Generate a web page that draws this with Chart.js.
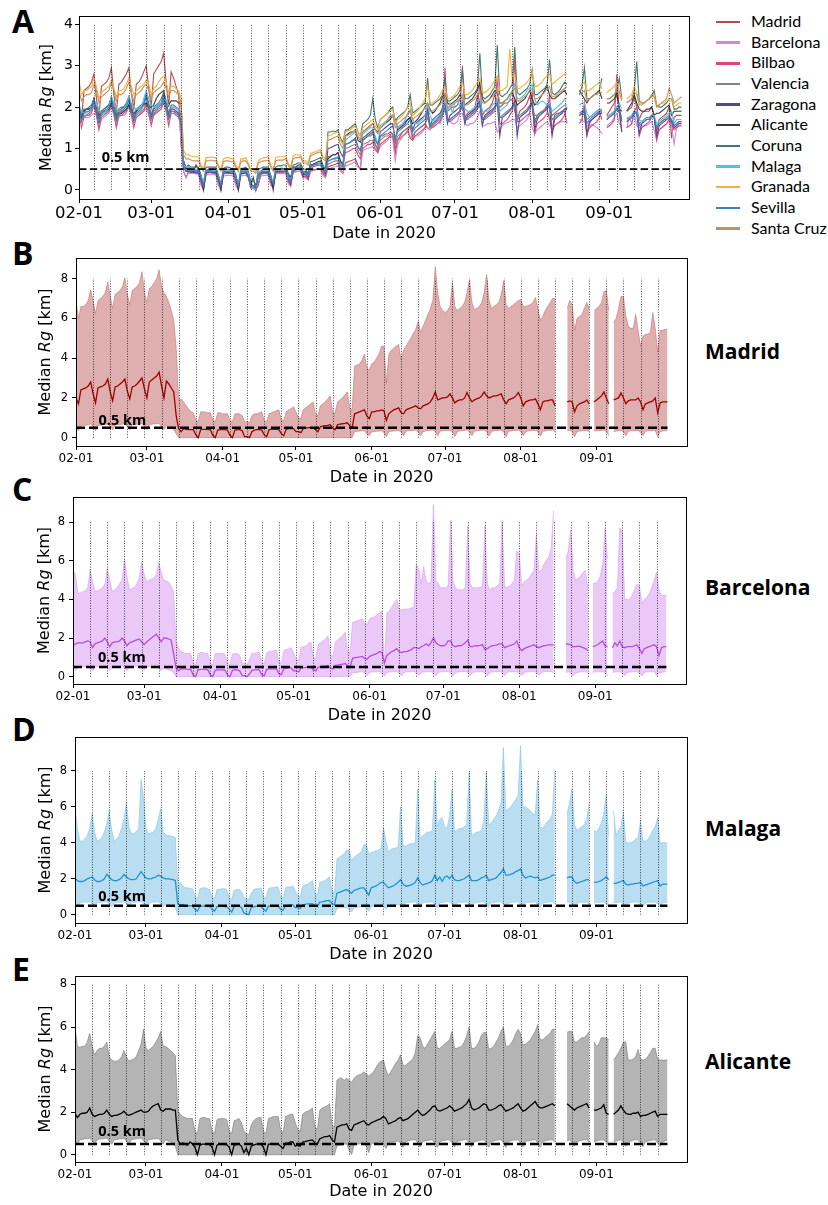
<!DOCTYPE html>
<html>
<head>
<meta charset="utf-8">
<script src="https://cdn.jsdelivr.net/npm/chart.js@4.4.1/dist/chart.umd.min.js"></script>
<style>
  body { margin: 0; width: 828px; height: 1205px; position: relative; overflow: hidden; background: #fff; }
  canvas { position: absolute; left: 0; }
  .letter { position: absolute; left: 12px; font: 700 32px/1 "Open Sans", sans-serif; color: #000; }
  .city { position: absolute; left: 705px; font: 700 21px/1 "Open Sans", sans-serif; color: #000; }
  #legend { position: absolute; left: 716px; top: 11px; font: 16px Lato, sans-serif; color: #000; }
  #legend div { height: 20.67px; line-height: 20.67px; white-space: nowrap; }
  #legend span { display: inline-block; width: 24px; height: 2.5px; vertical-align: middle; margin-right: 11px; position: relative; top: -1px; }
</style>
</head>
<body>
<div class="letter" style="top:4.9px">A</div>
<div class="letter" style="top:236.6px">B</div>
<div class="letter" style="top:473.3px">C</div>
<div class="letter" style="top:713.3px">D</div>
<div class="letter" style="top:953.3px">E</div>
<div class="city" style="top:341.4px">Madrid</div>
<div class="city" style="top:577.4px">Barcelona</div>
<div class="city" style="top:818px">Malaga</div>
<div class="city" style="top:1050.7px">Alicante</div>
<div id="legend"></div>
<script>
// days counted from 2020-02-01 (day 0) to 2020-09-30 (day 242)
const monthTicks = [0, 29, 60, 90, 121, 151, 182, 213];
const monthLabels = ['02-01', '03-01', '04-01', '05-01', '06-01', '07-01', '08-01', '09-01'];
const weeksA = [6,13,20,27,34,41,48,55,62,69,76,83,90,97,104,111,118,125,132,139,146,153,160,167,174,181,188,195,202,209,216,223,230,237];
const weeksB = [7,14,21,28,35,42,49,56,63,70,77,84,91,98,105,112,119,126,133,140,147,154,161,168,175,182,189,196,203,210,217,224,231,238];
const threshold = 0.5;

const cityNames = ['Madrid', 'Barcelona', 'Bilbao', 'Valencia', 'Zaragona', 'Alicante', 'Coruna', 'Malaga', 'Granada', 'Sevilla', 'Santa Cruz'];
const cityColors = ['#b84a50', '#c98bdb', '#e0467c', '#8e7f7c', '#54498a', '#3a3a3a', '#42796f', '#56bde8', '#f5b13a', '#3f7fc4', '#c4925f'];

// ---- Madrid
const madMed = [
2.0,1.7,2.4,2.45,2.5,2.6,2.8,
2.2,1.75,2.5,2.55,2.6,2.7,2.95,
2.3,1.85,2.55,2.6,2.7,2.8,2.95,
2.35,1.95,2.55,2.6,2.7,2.85,3.0,
2.45,2.0,2.8,2.9,3.0,3.1,3.3,
2.6,2.0,2.85,2.7,2.5,2.3,1.1,
0.45,0.3,0.45,0.42,0.4,0.4,0.4,
0.15,0.0,0.4,0.42,0.42,0.4,0.4,
0.12,0.0,0.38,0.4,0.4,0.4,0.38,
0.12,0.0,0.38,0.4,0.4,0.35,0.05,
0.05,0.0,0.3,0.38,0.4,0.4,0.38,
0.15,0.05,0.4,0.42,0.42,0.42,0.4,
0.2,0.1,0.42,0.45,0.45,0.45,0.3,
0.3,0.25,0.45,0.48,0.5,0.5,0.5,
0.4,0.3,0.55,0.58,0.6,0.62,0.65,
0.5,0.4,0.65,0.68,0.7,0.72,0.75,
0.6,0.5,1.2,1.25,1.3,1.35,1.4,
1.1,0.95,1.3,1.3,1.35,1.35,1.4,
1.35,0.87,1.2,1.3,1.4,1.45,1.5,
1.25,1.2,1.4,1.45,1.5,1.55,1.6,
1.5,1.45,1.6,1.65,1.7,1.8,2.0,
2.3,1.9,1.95,2.0,2.0,2.05,2.2,
2.0,1.75,1.85,1.9,1.9,2.0,2.27,
2.0,1.8,1.9,1.95,2.0,2.1,2.3,
2.1,2.0,2.05,2.1,2.1,2.15,2.2,
1.9,1.7,1.9,1.95,2.0,2.1,2.27,
2.0,1.6,1.8,1.85,1.9,1.9,1.95,
1.7,1.4,1.8,1.85,1.85,1.9,1.9,
1.6,null,null,null,null,1.8,1.85,
1.8,1.3,1.6,1.7,1.75,1.8,1.9,
1.7,null,1.8,1.9,2.0,2.1,2.3,
2.0,1.7,null,1.9,1.95,2.0,2.25,
2.0,1.7,1.85,1.9,1.9,1.9,2.0,
1.8,1.4,1.7,1.75,1.8,1.85,2.0,
1.25,1.75,1.8,1.8,1.8
];
const madUp = [
6.9,6.0,6.6,6.6,6.7,6.9,7.45,
6.9,6.25,6.9,7.0,7.1,7.3,7.85,
7.1,6.5,7.2,7.3,7.4,7.6,8.05,
7.2,6.7,7.4,7.5,7.6,7.8,8.35,
7.3,6.8,7.5,7.6,7.8,8.0,8.45,
7.6,7.3,7.1,6.8,6.4,5.9,4.5,
1.9,1.95,1.8,1.6,1.45,1.3,1.25,
0.9,0.8,1.3,1.3,1.28,1.25,1.25,
0.9,0.8,1.25,1.25,1.2,1.2,1.2,
0.85,0.8,1.2,1.2,1.2,1.1,0.8,
0.8,0.75,1.1,1.2,1.2,1.25,1.3,
0.85,0.8,1.2,1.25,1.3,1.35,1.4,
0.9,0.85,1.3,1.4,1.45,1.55,1.3,
1.0,0.95,1.4,1.5,1.6,1.7,1.8,
1.2,1.1,1.6,1.7,1.8,1.95,2.1,
1.3,1.2,1.8,1.9,2.0,2.15,2.3,
1.5,1.4,3.6,3.65,3.7,3.9,4.2,
3.5,3.4,3.7,3.8,4.0,4.2,4.6,
4.6,2.75,4.2,4.4,4.5,4.6,4.7,
3.9,4.4,4.6,4.8,5.0,5.25,5.45,
5.85,5.3,5.6,5.9,6.2,6.5,6.9,
8.6,7.3,6.6,6.4,6.3,6.4,6.6,
7.8,6.6,6.4,6.5,6.6,6.8,7.3,
7.95,6.8,6.45,6.5,6.6,6.8,7.3,
8.2,6.9,6.5,6.6,6.7,6.8,7.2,
7.9,6.7,6.5,6.6,6.7,6.8,6.9,
6.95,6.6,6.6,6.65,6.7,6.8,7.05,
6.5,5.9,6.1,6.4,6.6,6.8,7.0,
7.0,null,null,null,null,6.5,6.9,
6.7,5.4,6.0,6.1,6.2,6.5,6.8,
6.5,null,6.4,6.5,6.6,6.8,7.35,
7.4,6.4,null,5.8,6.0,6.5,7.1,
7.1,6.1,5.6,5.5,5.5,6.2,5.4,
4.6,5.1,5.2,5.2,5.3,6.3,5.5,
4.3,5.4,5.4,5.45,5.45
];
const madLo = [
0.5,0.35,0.6,0.62,0.62,0.65,0.7,
0.55,0.35,0.62,0.62,0.65,0.65,0.7,
0.55,0.4,0.62,0.65,0.65,0.68,0.7,
0.55,0.4,0.65,0.65,0.68,0.7,0.72,
0.55,0.4,0.65,0.68,0.7,0.7,0.72,
0.55,0.4,0.6,0.55,0.5,0.4,0.2,
0,0,0,0,0,0,0,
0,0,0,0,0,0,0,
0,0,0,0,0,0,0,
0,0,0,0,0,0,0,
0,0,0,0,0,0,0,
0,0,0,0,0,0,0,
0,0,0,0,0,0,0,
0,0,0,0,0,0,0,
0,0,0,0,0,0,0,
0,0,0,0,0,0,0,
0,0,0.3,0.32,0.33,0.35,0.35,
0.2,0.1,0.3,0.3,0.32,0.33,0.35,
0.25,0.05,0.3,0.32,0.33,0.35,0.35,
0.3,0.1,0.32,0.35,0.35,0.36,0.38,
0.28,0.08,0.3,0.34,0.36,0.37,0.38,
0.32,0.1,0.33,0.35,0.36,0.36,0.37,
0.3,0.05,0.3,0.34,0.35,0.37,0.38,
0.31,0.1,0.32,0.35,0.36,0.36,0.38,
0.3,0.08,0.31,0.35,0.35,0.37,0.37,
0.29,0.05,0.32,0.34,0.36,0.36,0.38,
0.3,0.1,0.3,0.35,0.35,0.36,0.37,
0.31,0.08,0.32,0.34,0.36,0.37,0.38,
0.3,null,null,null,null,0.35,0.36,
0.32,0.05,0.3,0.33,0.35,0.35,0.36,
0.3,null,0.33,0.35,0.35,0.36,0.38,
0.32,0.1,null,0.3,0.33,0.35,0.36,
0.3,0.1,0.32,0.35,0.35,0.35,0.36,
0.25,0.1,0.32,0.35,0.35,0.35,0.36,
0.05,0.3,0.33,0.35,0.35
];

// ---- Barcelona
const bcnMed = [
1.6,1.7,1.75,1.75,1.75,1.8,1.85,
1.8,1.5,1.7,1.75,1.8,1.85,2.0,
1.8,1.55,1.75,1.8,1.8,1.85,2.0,
1.85,1.6,1.75,1.8,1.85,1.9,1.95,
1.8,1.65,1.8,1.9,2.0,2.1,2.2,
2.0,1.8,2.0,2.0,1.95,1.9,1.2,
0.45,0.3,0.4,0.4,0.4,0.38,0.38,
0.1,0.0,0.35,0.38,0.38,0.38,0.35,
0.1,0.0,0.33,0.35,0.35,0.35,0.33,
0.1,0.0,0.33,0.35,0.35,0.3,0.05,
0.05,0.0,0.15,0.33,0.35,0.35,0.35,
0.1,0.05,0.38,0.4,0.4,0.4,0.4,
0.15,0.1,0.42,0.43,0.45,0.45,0.3,
0.3,0.25,0.45,0.46,0.48,0.5,0.5,
0.35,0.3,0.5,0.52,0.55,0.56,0.58,
0.45,0.4,0.58,0.6,0.62,0.65,0.68,
0.55,0.5,0.95,0.98,1.0,1.02,1.05,
0.95,0.9,1.05,1.1,1.15,1.2,1.3,
1.25,0.7,1.1,1.2,1.3,1.35,1.45,
1.3,1.25,1.3,1.3,1.35,1.4,1.5,
1.5,1.45,1.55,1.6,1.7,1.6,1.75,
2.0,1.75,1.65,1.6,1.6,1.65,1.85,
1.85,1.6,1.55,1.6,1.6,1.65,1.75,
1.9,1.55,1.55,1.6,1.6,1.62,1.65,
1.4,1.45,1.55,1.6,1.62,1.65,1.7,
1.7,1.5,1.55,1.6,1.65,1.7,1.85,
1.5,1.35,1.45,1.5,1.55,1.6,1.65,
1.55,1.5,1.55,1.6,1.62,1.65,1.65,
1.65,null,null,null,null,1.7,1.68,
1.65,1.55,1.55,1.58,1.55,1.5,1.45,
1.35,null,1.55,1.6,1.65,1.75,1.85,
1.6,1.55,null,1.5,1.75,1.6,1.85,
1.55,1.5,1.55,1.55,1.55,1.6,1.65,
1.45,1.2,1.45,1.5,1.55,1.6,1.65,
1.55,1.1,1.5,1.55,1.55
];
const bcnUp = [
5.5,5.3,4.3,4.35,4.4,4.45,4.6,
5.55,4.9,4.4,4.45,4.5,4.6,4.8,
5.6,5.0,4.4,4.5,4.6,4.8,5.0,
6.1,5.2,4.5,4.55,4.6,4.8,5.1,
5.95,5.3,4.9,5.0,5.05,5.1,5.3,
5.9,5.4,5.0,4.95,4.9,4.7,4.4,
1.8,1.5,1.3,1.25,1.2,1.2,1.2,
0.7,0.6,1.2,1.25,1.25,1.2,1.2,
0.7,0.6,1.2,1.2,1.2,1.2,1.15,
0.7,0.6,1.15,1.2,1.2,1.1,0.7,
0.7,0.6,0.9,1.2,1.2,1.25,1.25,
0.75,0.65,1.25,1.3,1.3,1.35,1.35,
0.8,0.7,1.35,1.4,1.45,1.5,1.2,
0.9,0.85,1.5,1.55,1.6,1.7,1.8,
1.0,0.95,1.65,1.75,1.85,1.95,2.1,
1.1,1.05,1.8,1.9,2.0,2.15,2.3,
1.3,1.2,2.8,2.85,2.9,2.95,3.0,
2.8,2.7,3.0,3.05,3.1,3.2,3.3,
3.4,0.6,3.3,3.4,3.6,3.8,4.0,
3.5,3.45,3.5,3.5,3.5,3.55,3.6,
5.8,5.6,4.8,5.7,5.0,4.8,4.9,
8.9,5.0,4.8,4.6,4.6,4.6,4.7,
8.1,4.9,4.6,4.5,4.5,4.5,4.6,
7.8,4.8,4.6,4.6,4.6,4.6,4.7,
7.8,4.8,4.5,4.6,4.6,4.7,4.8,
8.1,4.7,4.6,4.7,4.8,5.0,6.5,
6.4,4.7,4.9,5.0,5.1,5.3,5.5,
7.4,5.4,5.5,5.8,6.0,6.2,6.6,
8.6,null,null,null,null,6.1,6.5,
7.6,5.5,5.0,5.1,5.2,5.4,5.5,
4.5,null,4.8,4.85,4.9,5.2,5.8,
7.7,6.1,null,4.3,4.4,4.6,7.7,
7.5,4.0,4.0,4.0,4.2,4.5,4.8,
4.7,3.8,4.0,4.1,4.3,4.6,5.0,
5.4,4.5,4.2,4.2,4.2
];
const bcnLo = [
0.45,0.3,0.5,0.5,0.52,0.52,0.55,
0.45,0.3,0.5,0.52,0.52,0.55,0.55,
0.46,0.32,0.5,0.52,0.53,0.55,0.56,
0.45,0.3,0.52,0.52,0.54,0.55,0.55,
0.47,0.33,0.5,0.53,0.53,0.55,0.56,
0.45,0.3,0.45,0.4,0.35,0.3,0.2,
0,0,0,0,0,0,0,
0,0,0,0,0,0,0,
0,0,0,0,0,0,0,
0,0,0,0,0,0,0,
0,0,0,0,0,0,0,
0,0,0,0,0,0,0,
0,0,0,0,0,0,0,
0,0,0,0,0,0,0,
0,0,0,0,0,0,0,
0,0,0,0,0,0,0,
0,0,0.2,0.22,0.22,0.25,0.25,
0.2,0.05,0.22,0.25,0.25,0.25,0.26,
0.18,0.03,0.2,0.24,0.25,0.26,0.26,
0.2,0.05,0.22,0.25,0.26,0.25,0.27,
0.21,0.06,0.23,0.24,0.25,0.26,0.26,
0.2,0.04,0.22,0.25,0.25,0.27,0.27,
0.19,0.05,0.21,0.24,0.26,0.26,0.27,
0.2,0.05,0.22,0.25,0.25,0.26,0.26,
0.21,0.04,0.22,0.24,0.25,0.26,0.27,
0.2,0.05,0.23,0.25,0.26,0.26,0.26,
0.19,0.05,0.22,0.24,0.25,0.25,0.27,
0.2,0.06,0.22,0.25,0.26,0.26,0.27,
0.2,null,null,null,null,0.22,0.25,
0.22,0.05,0.2,0.22,0.25,0.25,0.25,
0.2,null,0.22,0.25,0.25,0.25,0.26,
0.22,0.05,null,0.22,0.25,0.25,0.25,
0.2,0.05,0.22,0.24,0.25,0.26,0.25,
0.19,0.04,0.22,0.25,0.25,0.25,0.26,
0.05,0.2,0.22,0.25,0.25
];

// ---- Malaga
const mlgMed = [
2.05,1.9,1.85,1.85,1.9,2.0,2.05,
2.1,1.95,1.85,1.85,1.9,2.0,2.25,
2.1,1.95,1.9,1.9,1.95,2.05,2.25,
2.1,2.0,1.95,1.95,2.0,2.2,2.4,
2.2,2.05,2.0,2.0,2.05,2.1,2.2,
2.15,2.05,2.0,2.0,1.98,1.95,1.9,
0.6,0.55,0.55,0.5,0.5,0.5,0.48,
0.3,0.2,0.48,0.48,0.5,0.48,0.48,
0.3,0.2,0.45,0.48,0.48,0.45,0.45,
0.3,0.15,0.45,0.47,0.48,0.4,0.1,
0.05,0.0,0.4,0.45,0.47,0.48,0.48,
0.3,0.2,0.48,0.5,0.5,0.5,0.5,
0.3,0.25,0.5,0.52,0.55,0.55,0.4,
0.4,0.35,0.55,0.58,0.6,0.6,0.62,
0.5,0.45,0.7,0.72,0.75,0.78,0.8,
0.6,0.55,1.2,1.25,1.3,1.35,1.4,
1.3,1.2,1.35,1.4,1.45,1.5,1.5,
1.3,1.1,1.5,1.55,1.6,1.7,1.8,
1.8,1.65,1.5,1.55,1.6,1.7,1.8,
1.95,1.7,1.6,1.6,1.65,1.7,1.8,
2.05,1.8,1.65,1.7,1.75,1.8,1.9,
2.2,1.9,2.1,1.85,2.1,2.15,2.0,
2.2,1.95,1.9,1.9,1.95,2.0,2.1,
2.2,1.9,1.9,1.9,1.95,2.05,2.1,
2.2,1.9,1.95,2.0,2.05,2.2,2.35,
2.55,2.2,2.2,2.25,2.3,2.4,2.45,
2.55,2.2,2.05,2.1,2.15,2.1,2.05,
2.1,1.9,1.95,2.0,2.05,2.1,2.2,
2.2,null,null,null,null,2.05,2.1,
2.1,1.85,1.75,1.8,1.85,1.9,1.95,
1.95,null,1.8,1.8,1.85,1.9,2.0,
2.1,1.95,null,1.75,1.75,1.8,1.85,
1.9,1.7,1.65,1.7,1.7,1.75,1.75,
1.8,1.6,1.65,1.7,1.75,1.8,1.85,
1.9,1.6,1.7,1.7,1.7
];
const mlgUp = [
6.0,4.8,4.1,4.1,4.2,4.4,4.8,
5.65,4.6,4.1,4.15,4.3,4.6,5.1,
5.8,4.7,4.1,4.2,4.4,4.8,5.3,
6.25,4.9,4.5,4.5,4.6,4.8,7.55,
6.5,4.8,4.5,4.55,4.6,4.8,5.3,
5.9,4.6,4.45,4.4,4.4,4.35,4.3,
1.5,1.8,1.6,1.5,1.5,1.45,1.45,
1.0,0.9,1.45,1.5,1.5,1.45,1.4,
1.0,0.9,1.4,1.4,1.45,1.45,1.4,
0.95,0.85,1.35,1.4,1.4,1.3,0.95,
0.9,0.85,1.2,1.4,1.45,1.45,1.5,
1.0,0.9,1.45,1.5,1.5,1.55,1.55,
1.0,0.95,1.5,1.55,1.55,1.6,1.3,
1.1,1.0,1.6,1.65,1.7,1.8,1.9,
1.2,1.1,1.8,1.85,1.9,2.0,2.1,
1.3,1.2,3.1,3.2,3.3,3.4,3.6,
3.6,3.0,3.2,3.3,3.4,3.5,3.9,
3.9,3.4,3.45,3.5,3.55,3.6,3.7,
4.85,4.1,3.5,3.6,3.7,3.7,3.8,
6.0,3.9,3.8,3.9,3.95,3.95,4.0,
7.0,4.2,4.4,4.5,4.6,4.6,4.7,
7.5,4.9,5.3,5.4,4.9,4.8,5.5,
7.0,4.6,4.7,4.8,4.8,4.9,5.0,
8.0,4.4,4.5,4.6,4.6,4.7,5.2,
8.0,5.0,5.1,5.3,5.5,5.8,6.2,
9.3,5.8,5.9,6.0,6.2,6.4,6.6,
9.4,6.0,6.0,5.9,5.8,5.6,5.6,
7.5,4.9,4.8,5.0,5.2,5.3,5.6,
8.1,null,null,null,null,5.6,6.2,
7.0,5.0,4.7,4.8,4.9,5.0,5.3,
6.2,null,4.7,4.6,4.8,5.1,5.6,
6.7,4.4,null,5.8,4.4,4.7,4.9,
5.7,4.0,4.0,4.0,4.1,4.2,4.3,
5.2,4.1,4.1,4.2,4.4,4.7,4.9,
5.4,4.0,4.0,4.0,4.0
];
const mlgLo = [
0.6,0.45,0.65,0.68,0.7,0.7,0.72,
0.62,0.46,0.66,0.68,0.7,0.71,0.72,
0.6,0.44,0.65,0.69,0.7,0.7,0.73,
0.61,0.45,0.66,0.68,0.71,0.72,0.74,
0.6,0.46,0.65,0.68,0.7,0.71,0.72,
0.6,0.45,0.6,0.55,0.5,0.45,0.4,
0,0,0,0,0,0,0,
0,0,0,0,0,0,0,
0,0,0,0,0,0,0,
0,0,0,0,0,0,0,
0,0,0,0,0,0,0,
0,0,0,0,0,0,0,
0,0,0,0,0,0,0,
0,0,0,0,0,0,0,
0,0,0,0,0,0,0,
0,0,0.35,0.38,0.4,0.4,0.4,
0.3,0.15,0.4,0.42,0.42,0.45,0.45,
0.35,0.2,0.45,0.48,0.5,0.5,0.5,
0.45,0.3,0.5,0.52,0.55,0.55,0.55,
0.55,0.4,0.65,0.68,0.7,0.7,0.72,
0.56,0.42,0.66,0.69,0.7,0.71,0.72,
0.55,0.4,0.65,0.68,0.71,0.72,0.73,
0.57,0.41,0.66,0.69,0.7,0.7,0.72,
0.55,0.4,0.65,0.68,0.7,0.72,0.73,
0.56,0.42,0.66,0.68,0.71,0.71,0.72,
0.55,0.4,0.65,0.69,0.7,0.72,0.73,
0.57,0.41,0.66,0.68,0.7,0.71,0.72,
0.55,0.4,0.65,0.68,0.71,0.72,0.72,
0.6,null,null,null,null,0.7,0.7,
0.6,0.45,0.65,0.68,0.7,0.7,0.7,
0.6,null,0.65,0.68,0.7,0.7,0.71,
0.6,0.45,null,0.65,0.68,0.7,0.7,
0.6,0.45,0.65,0.68,0.7,0.71,0.7,
0.61,0.44,0.65,0.68,0.7,0.7,0.71,
0.6,0.45,0.65,0.68,0.7
];

// ---- Alicante
const aliMed = [
1.95,1.75,1.9,1.95,1.95,2.0,2.2,
1.9,1.8,1.85,1.9,1.9,1.95,2.1,
1.9,1.8,1.85,1.85,1.9,1.95,2.05,
1.9,1.85,1.9,1.95,2.0,2.05,2.1,
2.0,2.0,2.05,2.2,2.3,2.35,2.4,
2.1,2.05,2.15,2.15,2.15,2.1,2.1,
0.7,0.5,0.55,0.5,0.45,0.6,0.5,
0.35,0.0,0.45,0.5,0.5,0.5,0.48,
0.35,0.0,0.45,0.5,0.5,0.48,0.48,
0.35,0.0,0.45,0.48,0.5,0.4,0.1,
0.3,0.0,0.4,0.45,0.5,0.5,0.5,
0.35,0.0,0.5,0.5,0.52,0.52,0.5,
0.4,0.3,0.55,0.55,0.6,0.6,0.4,
0.45,0.4,0.6,0.62,0.65,0.68,0.7,
0.55,0.5,0.75,0.8,0.85,0.85,0.9,
0.7,0.6,1.3,1.35,1.4,1.4,1.45,
1.2,1.15,1.4,1.45,1.5,1.55,1.6,
1.45,1.4,1.5,1.55,1.6,1.65,1.7,
1.8,1.7,1.45,1.5,1.55,1.6,1.7,
1.75,1.6,1.65,1.7,1.8,1.9,2.0,
2.1,1.95,1.85,1.9,2.0,2.1,2.25,
2.3,2.1,2.05,2.1,2.15,2.2,2.3,
2.2,2.05,2.1,2.15,2.2,2.3,2.4,
2.6,2.2,2.1,2.15,2.2,2.3,2.4,
2.35,2.1,2.1,2.15,2.2,2.3,2.35,
2.2,2.05,2.1,2.15,2.2,2.3,2.4,
2.2,2.05,2.1,2.2,2.3,2.4,2.5,
2.3,2.2,2.2,2.25,2.3,2.35,2.4,
2.3,null,null,null,null,2.4,2.3,
2.2,2.1,2.2,2.25,2.3,2.35,2.4,
2.2,null,2.1,2.1,2.15,2.2,2.35,
1.95,1.9,null,1.9,2.0,2.1,2.3,
2.1,1.95,1.9,1.9,1.95,1.95,2.0,
1.8,1.85,1.85,1.9,1.95,2.0,2.05,
1.8,1.9,1.9,1.9,1.9
];
const aliUp = [
6.0,5.1,5.05,5.1,5.1,5.3,5.7,
5.1,4.7,4.9,5.0,5.0,5.1,5.3,
4.6,4.45,4.4,4.4,4.45,4.6,4.9,
4.6,4.4,4.45,4.5,4.6,4.9,5.2,
5.9,5.0,4.9,5.0,5.1,5.3,5.5,
5.8,5.1,5.1,5.0,4.9,4.8,4.65,
2.1,1.9,1.8,1.75,1.7,1.7,1.7,
1.1,1.0,1.7,1.75,1.75,1.7,1.7,
1.1,1.0,1.65,1.7,1.7,1.7,1.65,
1.1,1.0,1.6,1.65,1.7,1.5,1.1,
1.0,0.95,1.4,1.6,1.7,1.75,1.75,
1.1,1.0,1.7,1.75,1.8,1.8,1.8,
1.15,1.05,1.8,1.85,1.9,1.9,1.5,
1.2,1.1,1.9,2.0,2.05,2.1,2.2,
1.3,1.2,2.1,2.2,2.25,2.3,2.4,
1.4,1.3,3.5,3.6,3.6,3.5,3.6,
3.5,3.4,3.6,3.7,3.75,3.8,3.9,
3.8,3.7,3.8,3.9,4.1,4.3,4.4,
4.45,4.0,3.7,3.9,4.1,4.3,4.45,
4.7,4.2,4.2,4.3,4.4,4.5,4.8,
5.6,5.5,5.1,5.0,5.2,5.4,5.6,
5.8,5.0,5.0,5.1,5.2,5.3,5.4,
5.8,5.0,5.0,5.05,5.1,5.3,5.6,
6.0,5.0,5.0,5.1,5.3,5.6,5.75,
5.75,4.95,5.0,5.1,5.3,5.5,5.8,
6.0,5.1,5.1,5.2,5.4,5.7,5.9,
5.7,5.15,5.2,5.3,5.4,5.6,5.8,
6.1,5.4,5.4,5.5,5.6,5.7,5.9,
5.9,null,null,null,null,5.75,5.8,
5.8,5.3,5.3,5.4,5.5,5.5,5.6,
5.8,null,5.3,5.1,5.2,5.5,5.5,
5.5,5.4,null,4.45,4.6,4.8,5.0,
5.3,5.3,4.45,4.45,4.5,4.6,4.95,
4.5,4.45,4.5,4.6,4.8,5.0,5.0,
4.5,4.45,4.45,4.45,4.45
];
const aliLo = [
0.65,0.5,0.7,0.72,0.75,0.75,0.78,
0.66,0.5,0.71,0.73,0.75,0.76,0.78,
0.64,0.49,0.7,0.72,0.74,0.75,0.77,
0.65,0.5,0.71,0.73,0.75,0.76,0.78,
0.66,0.51,0.7,0.72,0.75,0.75,0.77,
0.65,0.5,0.7,0.65,0.6,0.5,0.4,
0,0,0,0,0,0,0,
0,0,0,0,0,0,0,
0,0,0,0,0,0,0,
0,0,0,0,0,0,0,
0,0,0,0,0,0,0,
0,0,0,0,0,0,0,
0,0,0,0,0,0,0,
0,0,0,0,0,0,0,
0,0,0,0,0,0,0,
0,0,0.4,0.45,0.45,0.5,0.5,
0.2,0.0,0.45,0.5,0.5,0.55,0.55,
0.4,0.1,0.5,0.55,0.55,0.6,0.6,
0.5,0.3,0.55,0.6,0.6,0.62,0.65,
0.55,0.35,0.6,0.65,0.68,0.7,0.7,
0.56,0.36,0.61,0.65,0.67,0.69,0.71,
0.55,0.34,0.6,0.66,0.68,0.7,0.7,
0.57,0.35,0.62,0.65,0.68,0.7,0.72,
0.55,0.36,0.6,0.64,0.67,0.69,0.7,
0.56,0.35,0.61,0.65,0.68,0.7,0.71,
0.55,0.34,0.6,0.66,0.68,0.7,0.7,
0.57,0.36,0.62,0.65,0.67,0.69,0.71,
0.56,0.35,0.6,0.65,0.68,0.7,0.7,
0.6,null,null,null,null,0.65,0.7,
0.6,0.4,0.6,0.65,0.68,0.7,0.7,
0.6,null,0.6,0.65,0.68,0.7,0.7,
0.6,0.4,null,0.6,0.65,0.68,0.7,
0.6,0.4,0.6,0.65,0.68,0.7,0.7,
0.58,0.38,0.6,0.64,0.67,0.69,0.7,
0.55,0.4,0.6,0.65,0.68
];

// ---- other cities (panel A only)
const bilMed = [
1.85,1.5,1.75,1.8,1.8,1.85,2.05,
1.8,1.45,1.75,1.8,1.85,1.9,2.1,
1.85,1.5,1.8,1.8,1.85,1.9,2.05,
1.8,1.5,1.75,1.8,1.85,1.9,2.05,
1.85,1.55,1.8,1.85,1.9,1.95,2.1,
1.9,1.55,1.85,1.85,1.8,1.75,1.6,
0.6,0.45,0.45,0.42,0.42,0.42,0.42,
0.2,0.05,0.4,0.42,0.42,0.4,0.4,
0.2,0.05,0.4,0.4,0.42,0.4,0.4,
0.2,0.05,0.38,0.4,0.4,0.3,0.05,
0.05,0.0,0.1,0.38,0.4,0.4,0.42,
0.2,0.05,0.42,0.45,0.45,0.45,0.45,
0.25,0.1,0.45,0.48,0.5,0.5,0.3,
0.35,0.25,0.52,0.55,0.58,0.6,0.6,
0.45,0.35,0.8,0.82,0.85,0.85,0.9,
0.7,0.6,0.9,0.92,0.95,1.0,1.0,
0.85,0.75,1.0,1.05,1.1,1.1,1.15,
1.0,0.9,1.1,1.15,1.2,1.25,1.3,
1.3,1.0,1.2,1.25,1.3,1.35,1.4,
1.55,1.2,1.3,1.35,1.4,1.45,1.5,
2.0,1.5,1.5,1.55,1.6,1.65,1.8,
2.95,1.7,1.65,1.7,1.75,1.8,1.9,
3.0,1.75,1.7,1.75,1.8,1.85,1.95,
2.6,1.7,1.7,1.75,1.8,1.85,1.9,
2.75,1.6,1.6,1.65,1.7,1.8,1.9,
3.2,1.65,1.65,1.7,1.75,1.8,1.85,
2.4,1.35,1.6,1.65,1.7,1.75,1.85,
2.3,1.4,1.55,1.6,1.65,1.7,1.8,
2.0,null,null,null,null,1.6,1.7,
2.1,1.35,1.5,1.55,1.6,1.65,1.75,
1.9,null,1.5,1.55,1.6,1.7,2.8,
1.9,1.4,null,1.5,1.55,1.6,1.9,
2.0,1.3,1.5,1.55,1.6,1.65,1.75,
1.8,1.2,1.45,1.5,1.55,1.6,1.7,
1.6,1.45,1.5,1.55,1.55
];
const valMed = [
1.9,1.65,1.8,1.8,1.85,1.9,2.05,
1.85,1.6,1.8,1.85,1.85,1.9,2.05,
1.85,1.65,1.8,1.85,1.9,1.95,2.05,
1.9,1.65,1.8,1.85,1.9,1.95,2.1,
1.95,1.7,1.85,1.9,1.95,2.0,2.15,
1.95,1.7,1.9,1.9,1.85,1.8,1.6,
0.55,0.45,0.48,0.45,0.45,0.45,0.45,
0.3,0.15,0.45,0.45,0.45,0.45,0.45,
0.3,0.15,0.43,0.45,0.45,0.43,0.43,
0.3,0.15,0.42,0.43,0.45,0.35,0.15,
0.1,0.05,0.15,0.42,0.45,0.45,0.45,
0.3,0.15,0.45,0.48,0.48,0.48,0.48,
0.35,0.2,0.5,0.52,0.52,0.55,0.4,
0.4,0.35,0.55,0.58,0.6,0.62,0.62,
0.5,0.4,0.62,0.65,0.68,0.7,0.7,
0.55,0.5,1.0,1.02,1.05,1.08,1.1,
0.95,0.85,1.1,1.12,1.15,1.2,1.2,
1.1,1.0,1.2,1.25,1.3,1.3,1.35,
1.35,1.1,1.3,1.35,1.4,1.45,1.5,
1.55,1.3,1.4,1.45,1.5,1.55,1.6,
1.75,1.5,1.55,1.6,1.65,1.7,1.8,
1.95,1.65,1.7,1.75,1.8,1.85,1.9,
2.0,1.7,1.75,1.8,1.85,1.9,2.0,
2.05,1.75,1.75,1.8,1.85,1.9,2.0,
2.05,1.75,1.8,1.85,1.9,1.95,2.0,
2.05,1.75,1.8,1.85,1.9,1.95,2.05,
2.05,1.8,1.8,1.85,1.9,1.95,2.05,
2.1,1.8,1.85,1.9,1.95,2.0,2.05,
2.05,null,null,null,null,1.85,1.9,
1.95,1.7,1.75,1.8,1.85,1.9,1.95,
1.9,null,1.75,1.8,1.85,1.9,2.0,
1.85,1.7,null,1.7,1.75,1.8,1.9,
1.85,1.6,1.65,1.7,1.75,1.75,1.8,
1.75,1.5,1.6,1.65,1.7,1.75,1.8,
1.7,1.55,1.6,1.65,1.65
];
const zarMed = [
1.95,1.7,1.9,1.95,1.95,2.0,2.2,
1.9,1.65,1.9,1.95,2.0,2.05,2.2,
1.95,1.7,1.9,1.95,2.0,2.05,2.2,
1.95,1.7,1.9,1.95,2.0,2.05,2.25,
2.0,1.75,1.95,2.0,2.05,2.1,2.3,
2.05,1.75,1.95,1.95,1.9,1.85,1.65,
0.55,0.45,0.45,0.43,0.43,0.43,0.43,
0.25,0.05,0.42,0.43,0.43,0.42,0.42,
0.25,0.05,0.4,0.42,0.42,0.4,0.4,
0.25,0.05,0.4,0.4,0.42,0.32,0.1,
0.1,0.0,0.35,0.4,0.42,0.42,0.42,
0.25,0.1,0.43,0.45,0.45,0.45,0.45,
0.3,0.15,0.47,0.5,0.5,0.5,0.35,
0.4,0.3,0.55,0.58,0.6,0.6,0.62,
0.5,0.4,1.0,1.02,1.05,1.08,1.1,
0.9,0.8,1.1,1.12,1.15,1.2,1.25,
1.05,0.95,1.25,1.3,1.35,1.4,1.45,
1.25,1.1,1.4,1.45,1.5,1.55,1.6,
1.6,1.2,1.5,1.55,1.6,1.65,1.7,
1.75,1.45,1.6,1.65,1.7,1.75,1.8,
1.95,1.55,1.7,1.75,1.8,1.85,1.95,
2.1,1.6,1.8,1.85,1.9,1.95,2.0,
2.15,1.6,1.8,1.85,1.9,1.95,2.05,
2.15,1.55,1.8,1.85,1.9,1.95,2.0,
2.1,1.3,1.75,1.8,1.85,1.9,2.0,
2.15,1.3,1.75,1.8,1.85,1.9,2.0,
2.1,1.45,1.7,1.8,1.85,1.9,2.0,
2.0,1.3,1.7,1.75,1.8,1.85,1.95,
1.95,null,null,null,null,1.8,1.85,
1.9,1.35,1.65,1.7,1.75,1.8,1.85,
1.85,null,1.7,1.75,1.8,1.85,1.95,
1.9,1.4,null,1.65,1.7,1.75,1.85,
1.85,1.35,1.6,1.65,1.7,1.7,1.8,
1.75,1.3,1.55,1.6,1.65,1.7,1.75,
1.65,1.5,1.55,1.6,1.6
];
const corMed = [
2.05,1.8,1.95,1.95,2.0,2.05,2.2,
2.0,1.7,1.9,1.95,2.0,2.05,2.25,
2.05,1.75,1.95,2.0,2.0,2.1,2.25,
2.05,1.8,1.95,2.0,2.05,2.1,2.3,
2.1,1.8,2.0,2.05,2.1,2.2,2.35,
2.15,1.85,2.05,2.05,2.0,1.95,1.8,
0.7,0.55,0.6,0.55,0.55,0.55,0.55,
0.35,0.15,0.55,0.55,0.55,0.55,0.55,
0.35,0.15,0.52,0.55,0.55,0.52,0.52,
0.35,0.1,0.52,0.52,0.55,0.45,0.2,
0.25,0.1,0.5,0.52,0.55,0.55,0.55,
0.35,0.15,0.55,0.58,0.58,0.6,0.6,
0.4,0.25,0.6,0.62,0.65,0.65,0.5,
0.5,0.4,0.68,0.7,0.72,0.75,0.78,
0.6,0.5,1.4,1.4,1.42,1.4,1.45,
1.25,1.15,1.45,1.45,1.5,1.55,1.6,
1.4,1.3,1.6,1.65,1.7,1.8,2.2,
1.7,1.5,1.7,1.75,1.8,1.85,1.95,
2.0,1.65,1.75,1.8,1.85,1.9,2.0,
2.3,1.85,1.9,1.95,2.0,2.05,2.1,
2.7,2.05,2.05,2.1,2.15,2.2,2.3,
2.7,2.15,2.15,2.2,2.25,2.3,2.4,
2.9,2.2,2.2,2.25,2.3,2.35,2.45,
3.3,2.25,2.2,2.25,2.3,2.4,2.5,
3.5,2.3,2.25,2.3,2.35,2.45,2.55,
3.45,2.35,2.3,2.35,2.4,2.45,2.55,
2.9,2.3,2.3,2.35,2.4,2.45,2.55,
3.15,2.35,2.3,2.35,2.4,2.5,2.6,
2.55,null,null,null,null,2.3,2.5,
2.95,2.2,2.2,2.25,2.3,2.35,2.4,
2.7,null,2.2,2.2,2.25,2.3,2.4,
2.7,2.2,null,2.1,2.15,2.2,2.4,
3.1,2.15,2.1,2.1,2.15,2.2,2.25,
2.4,2.05,2.0,2.0,2.05,2.1,2.2,
2.2,1.95,1.95,2.0,2.0
];
const graMed = [
2.65,2.3,2.4,2.4,2.45,2.5,2.7,
2.5,2.2,2.35,2.4,2.45,2.5,2.65,
2.45,2.25,2.4,2.4,2.45,2.55,2.7,
2.5,2.3,2.4,2.45,2.5,2.55,2.65,
2.55,2.3,2.45,2.5,2.6,2.7,2.75,
2.6,2.35,2.5,2.5,2.45,2.4,2.2,
0.95,0.85,0.85,0.82,0.8,0.8,0.8,
0.6,0.5,0.78,0.78,0.8,0.78,0.78,
0.6,0.5,0.75,0.78,0.78,0.75,0.75,
0.6,0.5,0.75,0.75,0.78,0.65,0.5,
0.5,0.45,0.7,0.75,0.78,0.78,0.8,
0.6,0.5,0.78,0.8,0.8,0.8,0.82,
0.65,0.55,0.82,0.85,0.85,0.85,0.7,
0.7,0.65,0.88,0.9,0.92,0.95,0.98,
0.8,0.75,1.3,1.32,1.35,1.38,1.4,
1.2,1.1,1.4,1.42,1.45,1.5,1.55,
1.4,1.3,1.5,1.55,1.6,1.65,1.7,
1.55,1.45,1.7,1.75,1.8,1.85,1.9,
1.95,1.6,1.7,1.75,1.8,1.9,2.0,
2.1,1.8,1.85,1.9,2.0,2.1,2.2,
2.5,2.1,2.1,2.15,2.2,2.3,2.4,
2.5,2.2,2.2,2.25,2.3,2.4,2.5,
2.6,2.3,2.3,2.35,2.4,2.5,2.6,
2.7,2.35,2.35,2.4,2.45,2.55,2.65,
2.75,2.4,2.4,2.45,2.5,3.4,2.7,
2.8,2.45,2.45,2.5,2.55,2.6,2.7,
2.85,2.5,2.5,2.55,2.6,2.7,2.75,
2.8,2.55,2.6,2.65,2.7,2.75,2.8,
2.8,null,null,null,null,2.5,2.55,
2.6,2.4,2.4,2.45,2.5,2.55,2.6,
2.45,null,2.35,2.4,2.45,2.5,2.6,
2.4,2.2,null,2.2,2.25,2.3,2.5,
2.35,2.1,2.1,2.1,2.15,2.2,2.3,
2.3,2.05,2.05,2.1,2.1,2.15,2.2,
2.2,2.0,2.05,2.1,2.1
];
const sevMed = [
1.95,1.7,1.85,1.9,1.9,1.95,2.15,
1.9,1.65,1.85,1.9,1.95,2.0,2.15,
1.9,1.7,1.85,1.9,1.95,2.0,2.15,
1.9,1.7,1.85,1.9,1.95,2.05,2.3,
2.0,1.75,1.9,1.95,2.0,2.05,2.2,
2.0,1.75,1.9,1.9,1.85,1.8,1.6,
0.55,0.45,0.5,0.47,0.47,0.47,0.47,
0.3,0.1,0.45,0.47,0.47,0.45,0.45,
0.3,0.1,0.44,0.45,0.45,0.44,0.44,
0.3,0.1,0.43,0.45,0.45,0.35,0.1,
0.1,0.05,0.35,0.43,0.45,0.45,0.45,
0.3,0.15,0.47,0.5,0.5,0.5,0.5,
0.35,0.2,0.5,0.52,0.55,0.55,0.4,
0.42,0.35,0.58,0.6,0.62,0.65,0.65,
0.5,0.45,0.7,0.72,0.75,0.75,0.78,
0.6,0.55,1.1,1.12,1.15,1.2,1.2,
1.05,0.95,1.2,1.25,1.3,1.3,1.35,
1.2,1.1,1.3,1.35,1.4,1.45,1.5,
1.55,1.25,1.4,1.45,1.5,1.55,1.6,
1.7,1.4,1.5,1.55,1.6,1.65,1.7,
1.85,1.55,1.6,1.65,1.7,1.75,1.85,
2.0,1.65,1.7,1.75,1.8,1.85,1.9,
2.05,1.7,1.75,1.8,1.85,1.9,1.95,
2.05,1.7,1.75,1.8,1.85,1.9,2.0,
2.1,1.75,1.75,1.8,1.85,1.9,2.0,
2.1,1.7,1.75,1.8,1.85,1.9,2.0,
2.05,1.7,1.75,1.8,1.85,1.9,2.0,
2.05,1.7,1.75,1.8,1.85,1.9,1.95,
2.0,null,null,null,null,1.8,1.85,
1.95,1.6,1.7,1.75,1.8,1.85,1.9,
1.9,null,1.7,1.75,1.8,1.85,1.95,
1.95,1.65,null,1.65,1.7,1.75,1.9,
1.85,1.55,1.6,1.65,1.7,1.7,1.8,
1.75,1.5,1.6,1.65,1.7,1.7,1.75,
1.7,1.55,1.6,1.65,1.65
];
const sczMed = [
2.4,2.15,2.25,2.3,2.3,2.35,2.55,
2.4,2.1,2.25,2.3,2.35,2.4,2.6,
2.4,2.15,2.3,2.3,2.35,2.45,2.6,
2.35,2.15,2.3,2.35,2.4,2.5,2.55,
2.4,2.2,2.35,2.4,2.45,2.5,2.6,
2.45,2.25,2.4,2.4,2.35,2.3,2.1,
0.85,0.75,0.75,0.72,0.7,0.7,0.7,
0.55,0.45,0.7,0.7,0.72,0.7,0.7,
0.55,0.45,0.68,0.7,0.7,0.68,0.68,
0.55,0.45,0.68,0.7,0.7,0.6,0.45,
0.45,0.4,0.65,0.68,0.7,0.7,0.72,
0.55,0.45,0.7,0.72,0.72,0.72,0.75,
0.6,0.5,0.75,0.78,0.78,0.8,0.65,
0.65,0.6,0.82,0.85,0.88,0.9,0.92,
0.75,0.7,1.2,1.22,1.25,1.28,1.3,
1.1,1.0,1.3,1.32,1.35,1.4,1.45,
1.3,1.2,1.4,1.45,1.5,1.55,1.6,
1.45,1.35,1.55,1.6,1.65,1.7,1.75,
1.8,1.5,1.6,1.65,1.7,1.75,1.85,
1.9,1.7,1.75,1.8,1.85,1.9,2.0,
2.1,1.9,1.9,1.95,2.0,2.05,2.15,
2.3,2.0,2.0,2.05,2.1,2.15,2.2,
2.3,2.05,2.05,2.1,2.15,2.2,2.3,
2.35,2.1,2.1,2.15,2.2,2.25,2.35,
2.4,2.1,2.1,2.15,2.2,2.3,2.4,
2.45,2.15,2.15,2.2,2.25,2.3,2.4,
2.45,2.2,2.2,2.25,2.3,2.35,2.45,
2.5,2.25,2.25,2.3,2.35,2.4,2.45,
2.5,null,null,null,null,2.3,2.35,
2.4,2.15,2.2,2.25,2.3,2.3,2.35,
2.35,null,2.2,2.2,2.25,2.3,2.4,
2.35,2.15,null,2.1,2.15,2.2,2.35,
2.3,2.05,2.05,2.1,2.15,2.2,2.3,
2.25,2.0,2.05,2.1,2.15,2.2,2.45,
2.3,2.1,2.15,2.2,2.25
];

const cityValues = [madMed, bcnMed, bilMed, valMed, zarMed, aliMed, corMed, mlgMed, graMed, sevMed, sczMed];
const dayNumbers = madMed.map((v, i) => i);

// legend of panel A
const legendBox = document.getElementById('legend');
cityNames.forEach((name, i) => {
  const row = document.createElement('div');
  row.innerHTML = '<span style="background:' + cityColors[i] + '"></span>' + name;
  legendBox.appendChild(row);
});

const panels = [
  { left: 79, right: 689, top: 16, bottom: 199, xMax: 245, yMin: -0.22, yMax: 4.2, yTicks: [0, 1, 2, 3, 4],
    xTickSize: 16.5, xTickPad: 1, yTickSize: 14, yTickPad: 2, xAxisH: 48, vTop: 4, weeks: weeksA,
    dashW: 1.7, dash: [7.5, 3.3], labelX: 9.1, labelY: 0.77, titleX: 47 },
  { left: 76, right: 687, top: 258, bottom: 446, xMax: 250, yMin: -0.42, yMax: 9.04, yTicks: [0, 2, 4, 6, 8],
    xTickSize: 12, xTickPad: 2, yTickSize: 11.5, yTickPad: 4, xAxisH: 45, vTop: 8, weeks: weeksB,
    dashW: 2.5, dash: [9, 4], labelX: 9.2, labelY: 0.84, titleX: 46 },
  { left: 73, right: 686, top: 497, bottom: 684, xMax: 250, yMin: -0.38, yMax: 9.3, yTicks: [0, 2, 4, 6, 8],
    xTickSize: 12, xTickPad: 2, yTickSize: 11.5, yTickPad: 4, xAxisH: 45, vTop: 8, weeks: weeksB,
    dashW: 2.5, dash: [9, 4], labelX: 10.2, labelY: 0.95, titleX: 45 },
  { left: 75, right: 687, top: 737, bottom: 923, xMax: 250, yMin: -0.46, yMax: 9.89, yTicks: [0, 2, 4, 6, 8],
    xTickSize: 12, xTickPad: 2, yTickSize: 11.5, yTickPad: 4, xAxisH: 45, vTop: 8, weeks: weeksB,
    dashW: 2.5, dash: [9, 4], labelX: 9.5, labelY: 1.0, titleX: 46 },
  { left: 75, right: 687, top: 976, bottom: 1162, xMax: 250, yMin: -0.34, yMax: 8.4, yTicks: [0, 2, 4, 6, 8],
    xTickSize: 12, xTickPad: 2, yTickSize: 11.5, yTickPad: 4, xAxisH: 43, vTop: 8, weeks: weeksB,
    dashW: 2.5, dash: [9, 4], labelX: 9.5, labelY: 1.09, titleX: 46 }
];

function drawYTitle(ctx, x, y) {
  const parts = [['Median ', ''], ['Rg', 'italic '], [' [km]', '']];
  ctx.save();
  ctx.translate(x, y);
  ctx.rotate(-Math.PI / 2);
  ctx.fillStyle = '#000';
  ctx.textBaseline = 'middle';
  ctx.textAlign = 'left';
  let total = 0;
  parts.forEach(p => { ctx.font = p[1] + '16px "DejaVu Sans"'; total += ctx.measureText(p[0]).width; });
  let cx = -total / 2;
  parts.forEach(p => {
    ctx.font = p[1] + '16px "DejaVu Sans"';
    ctx.fillText(p[0], cx, 0);
    cx += ctx.measureText(p[0]).width;
  });
  ctx.restore();
}

function decor(p) {
  return {
    id: 'decor',
    afterDatasetsDraw(chart) {
      const { ctx, scales: { x, y } } = chart;
      ctx.save();
      // weekly dotted markers
      ctx.strokeStyle = 'rgba(0,0,0,0.7)';
      ctx.lineWidth = 1;
      ctx.setLineDash([1, 1.6]);
      ctx.beginPath();
      p.weeks.forEach(d => {
        const px = Math.round(x.getPixelForValue(d)) + 0.5;
        ctx.moveTo(px, y.getPixelForValue(0));
        ctx.lineTo(px, y.getPixelForValue(p.vTop));
      });
      ctx.stroke();
      // 0.5 km reference
      ctx.strokeStyle = '#000';
      ctx.lineWidth = p.dashW;
      ctx.setLineDash(p.dash);
      ctx.beginPath();
      ctx.moveTo(x.getPixelForValue(0), y.getPixelForValue(threshold));
      ctx.lineTo(x.getPixelForValue(dayNumbers[dayNumbers.length - 1]), y.getPixelForValue(threshold));
      ctx.stroke();
      ctx.setLineDash([]);
      ctx.fillStyle = '#000';
      ctx.font = '700 14.5px "Open Sans"';
      ctx.textBaseline = 'middle';
      ctx.fillText('0.5 km', x.getPixelForValue(p.labelX), y.getPixelForValue(p.labelY));
      ctx.restore();
    },
    afterDraw(chart) {
      const { ctx, chartArea: a } = chart;
      ctx.save();
      ctx.strokeStyle = '#000';
      ctx.lineWidth = 1;
      ctx.strokeRect(Math.round(a.left) + 0.5, Math.round(a.top) + 0.5, Math.round(a.right - a.left), Math.round(a.bottom - a.top));
      ctx.restore();
      drawYTitle(ctx, p.titleX, (a.top + a.bottom) / 2);
    }
  };
}

function makePanel(p, datasets) {
  const canvas = document.createElement('canvas');
  const canvasTop = p.top - 16;
  const w = p.right + 30;
  const h = p.bottom + p.xAxisH - canvasTop;
  canvas.width = w;
  canvas.height = h;
  canvas.style.top = canvasTop + 'px';
  canvas.style.width = w + 'px';
  canvas.style.height = h + 'px';
  document.body.appendChild(canvas);
  new Chart(canvas, {
    type: 'line',
    data: { labels: dayNumbers, datasets: datasets },
    options: {
      responsive: false,
      animation: false,
      events: [],
      layout: { padding: { top: 16, right: 30, left: 0, bottom: 0 } },
      elements: { point: { radius: 0 }, line: { tension: 0 } },
      plugins: { legend: { display: false }, tooltip: { enabled: false } },
      scales: {
        x: {
          type: 'linear', min: 0, max: p.xMax,
          afterBuildTicks: s => { s.ticks = monthTicks.map(v => ({ value: v })); },
          afterFit: s => { s.height = p.xAxisH; },
          ticks: {
            autoSkip: false, maxRotation: 0, color: '#000', padding: p.xTickPad,
            font: { family: 'DejaVu Sans', size: p.xTickSize },
            callback: v => monthLabels[monthTicks.indexOf(v)]
          },
          grid: { drawOnChartArea: false, drawTicks: true, tickLength: 4, color: '#000' },
          border: { display: true, color: '#000', width: 1 },
          title: { display: true, text: 'Date in 2020', color: '#000', font: { family: 'DejaVu Sans', size: 16 }, padding: { top: 0, bottom: 4 } }
        },
        y: {
          min: p.yMin, max: p.yMax,
          afterBuildTicks: s => { s.ticks = p.yTicks.map(v => ({ value: v })); },
          afterFit: s => { s.width = p.left; },
          ticks: { color: '#000', padding: p.yTickPad, font: { family: 'DejaVu Sans', size: p.yTickSize } },
          grid: { drawOnChartArea: false, drawTicks: true, tickLength: 4, color: '#000' },
          border: { display: true, color: '#000', width: 1 }
        }
      }
    },
    plugins: [decor(p)]
  });
}

// panel A: all cities
makePanel(panels[0], cityValues.map((vals, i) => ({
  data: vals, borderColor: cityColors[i], borderWidth: 1.1, fill: false, order: cityValues.length - i
})));

// panels B-E: median with band
function bandSets(med, up, lo, lineColor, fillColor) {
  return [
    { data: med, borderColor: lineColor, borderWidth: 1.3, fill: false, order: 0 },
    { data: up, borderColor: fillColor, borderWidth: 1, backgroundColor: fillColor, fill: '+1', order: 1 },
    { data: lo, borderColor: fillColor, borderWidth: 1, fill: false, order: 2 }
  ];
}
makePanel(panels[1], bandSets(madMed, madUp, madLo, '#a00000', 'rgba(192,96,96,0.5)'));
makePanel(panels[2], bandSets(bcnMed, bcnUp, bcnLo, '#b94de0', 'rgba(214,145,240,0.5)'));
makePanel(panels[3], bandSets(mlgMed, mlgUp, mlgLo, '#1f95d0', 'rgba(115,190,230,0.5)'));
makePanel(panels[4], bandSets(aliMed, aliUp, aliLo, '#000000', 'rgba(105,105,105,0.5)'));
</script>
</body>
</html>
